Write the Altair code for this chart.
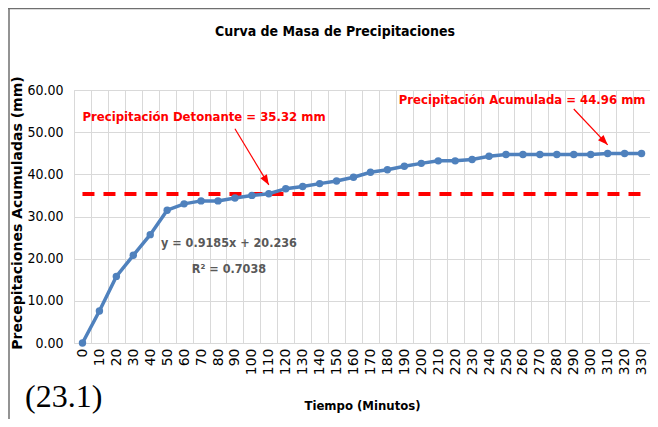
import math
import altair as alt
import pandas as pd

# ---- data ----
tiempo = [0, 10, 20, 30, 40, 50, 60, 70, 80, 90, 100, 110, 120, 130, 140, 150, 160,
          170, 180, 190, 200, 210, 220, 230, 240, 250, 260, 270, 280, 290, 300, 310,
          320, 330]
precip = [0.0, 7.6, 15.8, 20.8, 25.7, 31.5, 33.0, 33.7, 33.7, 34.4, 35.0, 35.4, 36.6,
          37.1, 37.8, 38.4, 39.3, 40.5, 41.1, 41.9, 42.6, 43.2, 43.2, 43.5, 44.3, 44.7,
          44.7, 44.7, 44.7, 44.7, 44.7, 44.96, 44.96, 44.96]
detonante = 35.32
y_ticks = [0, 10, 20, 30, 40, 50, 60]

label_text = ["Precipitación  Detonante = 35.32 mm", "Precipitación  Acumulada = 44.96 mm"]
label_x = [0, 330]
label_y = [53.7, 57.6]
label_align = ["left", "right"]

arrow_x1 = [90, 290]
arrow_y1 = [50.8, 55.5]
arrow_x2 = [110, 310]
arrow_y2 = [37.5, 47.0]

eq_text = ["y = 0.9185x + 20.236", "R² = 0.7038"]
eq_x = [90, 90]
eq_y = [23.7, 17.5]

W, H = 576, 253
YMAX = 60
NARROW = "DejaVu Sans Condensed, Roboto, sans-serif"
BLUE = "#4F81BD"
RED = "#FF0000"

df = pd.DataFrame({"t": tiempo, "p": precip, "det": [detonante] * len(tiempo)})
lab = pd.DataFrame({"text": label_text, "t": label_x, "y": label_y, "align": label_align})
eq = pd.DataFrame({"text": eq_text, "t": eq_x, "y": eq_y})
one = pd.DataFrame({"k": [0]})

step = W / len(tiempo)
angles = []
for a, b, c, d in zip(arrow_x1, arrow_y1, arrow_x2, arrow_y2):
    dx = (tiempo.index(c) - tiempo.index(a)) * step
    dy = (b - d) * H / YMAX
    angles.append(math.degrees(math.atan2(dx, -dy)) % 360)
arr = pd.DataFrame({"t": arrow_x1, "y": arrow_y1, "t2": arrow_x2, "y2": arrow_y2, "ang": angles})

xscale = alt.Scale(type="band", paddingInner=0, paddingOuter=0)
X = alt.X("t:O", scale=xscale,
          axis=alt.Axis(title="Tiempo (Minutos)", tickBand="extent", labelAngle=-90,
                        labelFont="DejaVu Sans", labelFontSize=14, labelColor="#000000",
                        labelPadding=5, ticks=False, domain=False, grid=True,
                        gridColor="#d9d9d9", gridWidth=1,
                        titleFont=NARROW, titleFontSize=13, titleFontWeight="bold",
                        titleColor="#000000", titleBaseline="middle", titleY=62))
Y = alt.Y("p:Q", scale=alt.Scale(domain=[0, YMAX], nice=False),
          axis=alt.Axis(title="Precepitaciones Acumuladas (mm)", values=y_ticks, format=".2f",
                        labelFont=NARROW, labelFontSize=14, labelColor="#000000",
                        labelPadding=11, ticks=False, domain=False, grid=True,
                        gridColor="#d9d9d9", gridWidth=1,
                        titleFont="DejaVu Sans", titleFontSize=14, titleFontWeight="bold",
                        titleColor="#000000", titleAngle=270, titleBaseline="middle",
                        titleAlign="center", titleX=-57, titleY=H / 2 - 4))

red_line = alt.Chart(df).mark_line(color=RED, strokeWidth=4, strokeDash=[12, 9]).encode(
    x=X, y=alt.Y("det:Q"))
blue_line = alt.Chart(df).mark_line(color=BLUE, strokeWidth=3.5).encode(x=X, y=Y)
blue_pts = alt.Chart(df).mark_point(color=BLUE, filled=True, opacity=1, size=55).encode(x=X, y=Y)

text_layers = []
for al, shift in [("left", 0), ("right", 4)]:
    text_layers.append(
        alt.Chart(lab[lab["align"] == al]).mark_text(
            font=NARROW, fontSize=13, fontWeight="bold", color=RED, baseline="middle",
            align=al, dx=shift
        ).encode(x=alt.X("t:O"), y=alt.Y("y:Q"), text="text:N"))

eqs = alt.Chart(eq).mark_text(font=NARROW, fontSize=12.5, fontWeight="bold", color="#595959",
                              baseline="middle", dx=-6).encode(
    x=alt.X("t:O"), y=alt.Y("y:Q"), text="text:N")

arrows = alt.Chart(arr).mark_rule(color=RED, strokeWidth=1.2).encode(
    x=alt.X("t:O"), x2="t2", y=alt.Y("y:Q"), y2="y2")
heads = alt.Chart(arr).mark_point(shape="M0,0 L-0.38,1 L0.38,1 Z", filled=True, color=RED,
                                  opacity=1, size=400).encode(
    x=alt.X("t2:O"), y=alt.Y("y2:Q"), angle=alt.Angle("ang:Q", scale=None))

title = alt.Chart(one).mark_text(text="Curva de Masa de Precipitaciones", font=NARROW,
                                 fontSize=14, fontWeight="bold", color="#000000",
                                 align="center", baseline="middle").encode(
    x=alt.value(261), y=alt.value(-58))
fig_label = alt.Chart(one).mark_text(text="(23.1)", font="Liberation Serif", fontSize=32,
                                     fontWeight="normal", align="left", baseline="alphabetic",
                                     color="#000000").encode(
    x=alt.value(-49), y=alt.value(317))
border_top = alt.Chart(one).mark_rule(color="#6f6f6f", strokeWidth=1.5).encode(
    x=alt.value(-66), x2=alt.value(W), y=alt.value(-81.5))
border_left = alt.Chart(one).mark_rule(color="#6f6f6f", strokeWidth=1.5).encode(
    x=alt.value(-65), y=alt.value(-82), y2=alt.value(H + 76))

chart = alt.layer(
    red_line, blue_line, blue_pts, arrows, heads, *text_layers, eqs, title, fig_label,
    border_top, border_left
).properties(
    width=W, height=H,
    autosize=alt.AutoSizeParams(type="none"),
    padding={"left": 66, "top": 82, "right": 0, "bottom": 76},
    background="white",
).configure_view(stroke="#d9d9d9", strokeWidth=1)

chart.save("out.html", embed_options={"renderer": "svg", "actions": False})
